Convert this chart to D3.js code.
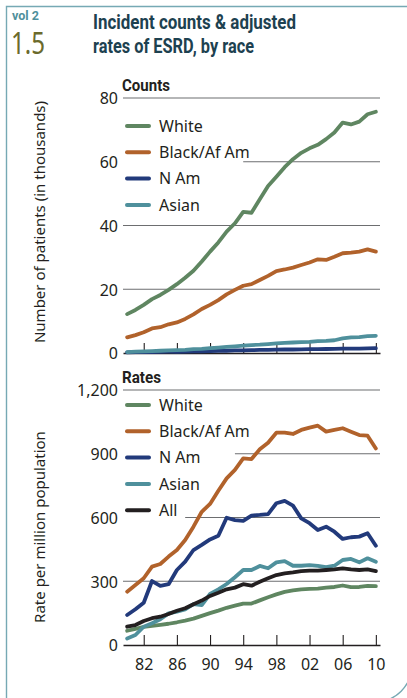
<!DOCTYPE html>
<html lang="en">
<head>
<meta charset="UTF-8">
<title>Incident counts & adjusted rates of ESRD, by race</title>
<style>
html, body {
    margin: 0;
    padding: 0;
    background: #fff;
}
#graph {
    width: 407px;
    height: 698px;
}
text {
    font-family: "Noto Sans", "Open Sans", sans-serif;
    fill: #231f20;
}
.cond {
    font-family: "Roboto", "Noto Sans", sans-serif;
    font-weight: bold;
}
.grid line {
    stroke: #6d6e70;
    stroke-width: 1.1;
}
.axis .domain {
    stroke: #231f20;
    stroke-width: 1.3;
}
.axis .tick line {
    stroke: #231f20;
    stroke-width: 1.1;
}
.valueLine {
    fill: none;
    stroke-width: 3.8;
    stroke-linejoin: round;
    stroke-linecap: round;
}
</style>
</head>
<body>

<div id="graph"></div>

<script src="https://d3js.org/d3.v7.min.js"></script>
<script>

// years on the x axis
const years = d3.range(1980, 2011);
const xTicks = [1982, 1986, 1990, 1994, 1998, 2002, 2006, 2010];

// counts, in thousands
const countsTicks = [0, 20, 40, 60, 80];
const countWhite = [12.2, 13.5, 15.1, 16.9, 18.2, 19.8, 21.6, 23.6, 25.8, 28.7, 31.8, 34.7, 38.1, 40.7, 44.3, 44.0,
    48.2, 52.4, 55.3, 58.3, 60.8, 62.8, 64.2, 65.3, 67.1, 69.2, 72.3, 71.7, 72.6, 74.9, 75.7];
const countBlack = [4.9, 5.6, 6.5, 7.7, 8.1, 9.0, 9.6, 10.7, 12.1, 13.8, 15.1, 16.6, 18.4, 19.8, 21.1, 21.6,
    22.9, 24.2, 25.7, 26.2, 26.8, 27.6, 28.4, 29.4, 29.2, 30.2, 31.3, 31.5, 31.8, 32.5, 31.8];
const countNAm = [0.2, 0.25, 0.3, 0.3, 0.35, 0.4, 0.4, 0.45, 0.5, 0.55, 0.6, 0.65, 0.7, 0.8, 0.85, 0.9,
    0.95, 1.0, 1.05, 1.1, 1.1, 1.15, 1.2, 1.2, 1.25, 1.3, 1.35, 1.35, 1.4, 1.45, 1.5];
const countAsian = [0.3, 0.4, 0.5, 0.6, 0.7, 0.8, 0.9, 1.0, 1.2, 1.3, 1.5, 1.7, 1.9, 2.1, 2.3, 2.5,
    2.6, 2.8, 3.0, 3.2, 3.3, 3.4, 3.5, 3.7, 3.8, 4.0, 4.6, 4.9, 5.0, 5.3, 5.4];

// rates per million population
const ratesTicks = [0, 300, 600, 900, 1200];
const rateWhite = [67, 76, 85, 90, 95, 100, 107, 115, 124, 137, 150, 162, 175, 185, 195, 195,
    210, 225, 238, 250, 257, 262, 264, 265, 270, 273, 280, 272, 273, 278, 277];
const rateBlack = [251, 282, 314, 369, 381, 416, 447, 494, 557, 627, 664, 726, 784, 824, 878, 875,
    921, 952, 999, 999, 993, 1012, 1023, 1032, 1004, 1012, 1020, 1004, 988, 985, 925];
const rateNAm = [141, 168, 199, 301, 278, 286, 353, 392, 447, 471, 497, 514, 599, 588, 584, 609,
    612, 616, 667, 678, 656, 596, 573, 541, 557, 533, 499, 507, 510, 526, 467];
const rateAsian = [31, 47, 86, 102, 121, 149, 157, 168, 192, 188, 240, 262, 287, 319, 353, 353,
    372, 361, 389, 395, 373, 373, 376, 372, 366, 373, 400, 405, 389, 408, 392];
const rateAll = [86, 94, 113, 126, 133, 146, 161, 173, 192, 209, 231, 246, 262, 270, 286, 279,
    298, 314, 329, 337, 342, 348, 350, 350, 353, 356, 361, 356, 353, 356, 348];

const countNames = ["White", "Black/Af Am", "N Am", "Asian"];
const rateNames = ["White", "Black/Af Am", "N Am", "Asian", "All"];

!(function(){
    const colors = {
        "White": "#5f8661",
        "Black/Af Am": "#b1622b",
        "N Am": "#223a7b",
        "Asian": "#4f909c",
        "All": "#231f20"
    };

    const width = 407;
    const height = 698;
    const svg = d3.select("#graph").append("svg")
        .attr("width", width)
        .attr("height", height);

    const plotLeft = 123;
    const plotRight = 380;

    const xScale = d3.scaleLinear().domain([1979.5, 2010.5]).range([plotLeft, plotRight]);

    const panels = [
        {
            title: "Counts", titleY: 91, titleW: 48,
            axisTitle: "Number of patients (in thousands)", axisTitleY: 222,
            yScale: d3.scaleLinear().domain([0, 80]).range([353, 98]),
            ticks: countsTicks, fmt: d3.format("d"),
            // gridlines that stop short of the legend: tick -> starting year
            gaps: { 60: 1994 },
            showLabels: false,
            legendY: 126,
            series: countNames.map((n, i) => ({ name: n, values: [countWhite, countBlack, countNAm, countAsian][i] }))
        },
        {
            title: "Rates", titleY: 383, titleW: 39,
            axisTitle: "Rate per million population", axisTitleY: 527,
            yScale: d3.scaleLinear().domain([0, 1200]).range([645, 390]),
            ticks: ratesTicks, fmt: d3.format(","),
            gaps: { 600: 1987, 900: 1993 },
            showLabels: true,
            legendY: 405,
            series: rateNames.map((n, i) => ({ name: n, values: [rateWhite, rateBlack, rateNAm, rateAsian, rateAll][i] }))
        }
    ];

    drawFrame();
    drawHeader();
    panels.forEach(drawPanel);

    function drawFrame() {
        svg.append("path")
            .attr("d", "M6.5,720 V6.5 H412 V665 A37,37 0 0 1 375,702 H6.5")
            .attr("fill", "none")
            .attr("stroke", "#76a9b4")
            .attr("stroke-width", 1.4);
    }

    function drawHeader() {
        svg.append("text")
            .attr("class", "cond")
            .attr("x", 12).attr("y", 19.5)
            .attr("font-size", 12.5)
            .attr("textLength", 27).attr("lengthAdjust", "spacingAndGlyphs")
            .style("fill", "#4f909c")
            .text("vol 2");

        svg.append("text")
            .attr("x", 11).attr("y", 53.5)
            .attr("font-size", 30)
            .attr("font-family", "Roboto, sans-serif")
            .attr("textLength", 34).attr("lengthAdjust", "spacingAndGlyphs")
            .style("fill", "#6b6a2c")
            .text("1.5");

        const title = svg.append("g").attr("class", "title");
        [["Incident counts & adjusted", 29, 203], ["rates of ESRD, by race", 53, 161]].forEach(([t, y, w]) => {
            title.append("text")
                .attr("class", "cond")
                .attr("x", 93).attr("y", y)
                .attr("font-size", 19.5)
                .attr("textLength", w).attr("lengthAdjust", "spacingAndGlyphs")
                .style("fill", "#1d4150")
                .text(t);
        });
    }

    function drawPanel(p) {
        const g = svg.append("g").attr("class", "panel");
        const y = p.yScale;

        // gridlines
        g.append("g").attr("class", "grid")
            .selectAll("line")
            .data(p.ticks.filter(d => d > 0))
            .join("line")
            .attr("x1", d => p.gaps[d] ? xScale(p.gaps[d]) : plotLeft)
            .attr("x2", plotRight)
            .attr("y1", d => y(d))
            .attr("y2", d => y(d));

        // y axis labels
        const yAxis = d3.axisLeft(y)
            .tickValues(p.ticks)
            .tickFormat(p.fmt)
            .tickSize(0)
            .tickPadding(5);

        g.append("g")
            .attr("class", "axis y")
            .attr("transform", `translate(${plotLeft},0)`)
            .call(yAxis)
            .call(s => s.select(".domain").remove())
            .selectAll("text")
            .attr("font-size", 16)
            .attr("font-family", null)
            .attr("dy", "0.36em");

        // x axis, ticks point up into the plot
        const xAxis = d3.axisBottom(xScale)
            .tickValues(xTicks)
            .tickSizeInner(-10)
            .tickSizeOuter(0)
            .tickPadding(14)
            .tickFormat(p.showLabels ? (d => String(d % 100).padStart(2, "0")) : "");

        g.append("g")
            .attr("class", "axis x")
            .attr("transform", `translate(0,${y(0)})`)
            .call(xAxis)
            .selectAll("text")
            .attr("font-size", 16)
            .attr("font-family", null);

        // series lines
        const lineGen = d3.line()
            .x((d, i) => xScale(years[i]))
            .y(d => y(d));

        g.append("g").attr("class", "chartLayer")
            .selectAll(".valueLine")
            .data(p.series)
            .join("path")
            .attr("class", "valueLine")
            .attr("stroke", d => colors[d.name])
            .attr("d", d => lineGen(d.values));

        // legend
        const lg = g.append("g").attr("class", "legend")
            .selectAll("g")
            .data(p.series)
            .join("g")
            .attr("transform", (d, i) => `translate(127,${p.legendY + i * 26.3})`);

        lg.append("line")
            .attr("x1", 0).attr("x2", 22)
            .attr("stroke", d => colors[d.name])
            .attr("stroke-width", 4)
            .attr("stroke-linecap", "round");

        lg.append("text")
            .attr("x", 32)
            .attr("dy", "0.36em")
            .attr("font-size", 16)
            .text(d => d.name);

        // panel title
        g.append("text")
            .attr("class", "cond")
            .attr("x", 122).attr("y", p.titleY)
            .attr("font-size", 17)
            .attr("textLength", p.titleW)
            .attr("lengthAdjust", "spacingAndGlyphs")
            .text(p.title);

        // axis title
        g.append("text")
            .attr("transform", `translate(45,${p.axisTitleY}) rotate(-90)`)
            .attr("text-anchor", "middle")
            .attr("font-size", 15)
            .text(p.axisTitle);
    }
}());

</script>
</body>
</html>
